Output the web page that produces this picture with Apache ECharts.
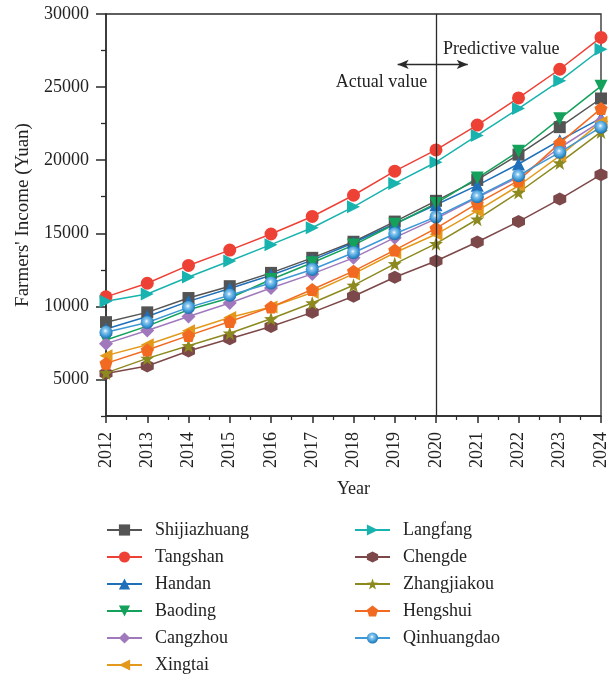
<!DOCTYPE html>
<html>
<head>
<meta charset="utf-8">
<script src="https://cdn.jsdelivr.net/npm/echarts@6/dist/echarts.min.js"></script>
<style>
  html, body { margin: 0; padding: 0; background: #fff; }
  #chart { width: 610px; height: 678px; }
</style>
</head>
<body>
<div id="chart"></div>
<script>
// Farmers' per-capita income of Hebei cities, 2012-2020 actual, 2021-2024 predicted
const years = [2012, 2013, 2014, 2015, 2016, 2017, 2018, 2019, 2020, 2021, 2022, 2023, 2024];

const shijiazhuang = [8920, 9590, 10570, 11380, 12290, 13320, 14420, 15800, 17220, 18650, 20380, 22260, 24220];
const tangshan     = [10650, 11580, 12800, 13850, 14950, 16150, 17600, 19250, 20700, 22400, 24260, 26220, 28400];
const handan       = [8450, 9310, 10340, 11220, 12130, 13160, 14350, 15650, 16950, 18280, 19740, 21350, 22880];
const baoding      = [7700, 8650, 9770, 10570, 11840, 12980, 14190, 15620, 17040, 18780, 20610, 22840, 25060];
const cangzhou     = [7450, 8350, 9310, 10230, 11260, 12220, 13320, 14700, 16000, 17450, 18850, 20850, 22650];
const xingtai      = [6630, 7370, 8330, 9240, 9950, 10950, 12220, 13670, 14930, 16530, 18250, 20300, 22600];
const langfang     = [10350, 10850, 12010, 13100, 14220, 15380, 16810, 18410, 19860, 21690, 23530, 25430, 27590];
const chengde      = [5400, 5920, 6950, 7780, 8620, 9590, 10690, 11990, 13100, 14400, 15800, 17340, 19010];
const zhangjiakou  = [5450, 6440, 7300, 8160, 9150, 10230, 11440, 12910, 14290, 15960, 17790, 19810, 21930];
const hengshui     = [6100, 7020, 8000, 8970, 9950, 11150, 12410, 13850, 15340, 17040, 18600, 21170, 23530];
const qinhuangdao  = [8230, 8900, 9930, 10760, 11600, 12520, 13670, 14970, 16120, 17500, 18940, 20540, 22260];

const yMajorTicks = [5000, 10000, 15000, 20000, 25000, 30000];
const yMinorTicks = [2500, 7500, 12500, 17500, 22500, 27500];
const splitYear = 2020;

const FONT = '"Liberation Serif", "DejaVu Serif", serif';

const STAR = 'path://M0,-10 L2.35,-3.24 9.51,-3.09 3.8,1.24 5.88,8.09 0,4 -5.88,8.09 -3.8,1.24 -9.51,-3.09 -2.35,-3.24Z';
const HEXAGON = 'path://M0,-10 L8.66,-5 8.66,5 0,10 -8.66,5 -8.66,-5Z';
const PENTAGON = 'path://M0,-10 L9.51,-3.09 5.88,8.09 -5.88,8.09 -9.51,-3.09Z';

const sphere = {
  type: 'radial', x: 0.45, y: 0.4, r: 0.6,
  colorStops: [
    { offset: 0, color: '#ffffff' },
    { offset: 0.25, color: '#8cc8ef' },
    { offset: 0.7, color: '#3a97d6' },
    { offset: 1, color: '#1f6ea8' }
  ]
};

const seriesDefs = [
  { name: 'Shijiazhuang', data: shijiazhuang, color: '#545454', symbol: 'rect', rotate: 0, size: 12 },
  { name: 'Tangshan',     data: tangshan,     color: '#ee4136', symbol: 'circle', rotate: 0, size: 13 },
  { name: 'Handan',       data: handan,       color: '#1f6fba', symbol: 'triangle', rotate: 0, size: 13 },
  { name: 'Baoding',      data: baoding,      color: '#14a15c', symbol: 'triangle', rotate: 180, size: 13 },
  { name: 'Cangzhou',     data: cangzhou,     color: '#a079bd', symbol: 'diamond', rotate: 0, size: 14 },
  { name: 'Xingtai',      data: xingtai,      color: '#e39a1c', symbol: 'triangle', rotate: 90, size: 13 },
  { name: 'Langfang',     data: langfang,     color: '#18b3ae', symbol: 'triangle', rotate: -90, size: 13 },
  { name: 'Chengde',      data: chengde,      color: '#7d4849', symbol: HEXAGON, rotate: 0, size: 13 },
  { name: 'Zhangjiakou',  data: zhangjiakou,  color: '#8c8a1f', symbol: STAR, rotate: 0, size: 14 },
  { name: 'Hengshui',     data: hengshui,     color: '#f26a21', symbol: PENTAGON, rotate: 0, size: 13 },
  { name: 'Qinhuangdao',  data: qinhuangdao,  color: '#3d99d6', symbol: 'circle', rotate: 0, size: 13, fill: sphere }
];

const series = seriesDefs.map(function (d) {
  return {
    name: d.name,
    type: 'line',
    data: years.map(function (y, i) { return [y, d.data[i]]; }),
    symbol: d.symbol,
    symbolSize: d.size,
    symbolRotate: d.rotate,
    showSymbol: true,
    lineStyle: { color: d.color, width: 1.5 },
    itemStyle: { color: d.fill || d.color, borderWidth: 0 },
    emphasis: { disabled: true },
    animation: false,
    z: 3
  };
});

// Divider between actual and predicted years, plus the two-way arrow
series[0].markLine = {
  silent: true,
  animation: false,
  label: { show: false },
  data: [
    [
      { coord: [splitYear, 2500], symbol: 'none' },
      { coord: [splitYear, 30000], symbol: 'none' }
    ],
    [
      { coord: [2019.07, 26550], symbol: 'arrow', symbolSize: [7, 11] },
      { coord: [2020.77, 26550], symbol: 'arrow', symbolSize: [7, 11] }
    ]
  ],
  lineStyle: { color: '#2a2a2a', width: 1.3, type: 'solid' }
};

const legendCommon = {
  orient: 'vertical',
  padding: 0,
  itemWidth: 35,
  itemHeight: 14,
  itemGap: 9,
  textStyle: { fontFamily: FONT, fontSize: 18, color: '#222', padding: [0, 0, 0, 8] },
  selectedMode: false
};

const option = {
  backgroundColor: '#ffffff',
  animation: false,
  textStyle: { fontFamily: FONT },
  grid: {
    left: 106, right: 8, top: 14, bottom: 262,
    show: true, borderColor: '#2a2a2a', borderWidth: 1.3, backgroundColor: 'transparent'
  },
  xAxis: {
    type: 'value',
    min: 2012, max: 2024, interval: 1,
    name: 'Year',
    nameLocation: 'middle',
    nameGap: 64,
    nameTextStyle: { fontFamily: FONT, fontSize: 18, color: '#222' },
    axisLine: { show: true, lineStyle: { color: '#2a2a2a', width: 1.5 } },
    axisTick: { show: true, length: 7, lineStyle: { color: '#2a2a2a', width: 1.5 } },
    minorTick: { show: true, splitNumber: 2, length: 4, lineStyle: { color: '#2a2a2a', width: 1.2 } },
    axisLabel: { rotate: 90, margin: 16, fontFamily: FONT, fontSize: 18, color: '#222', formatter: function (v) { return String(v); } },
    splitLine: { show: false }
  },
  yAxis: [
    {
      type: 'value',
      min: 2500, max: 30000,
      name: "Farmers' Income (Yuan)",
      nameLocation: 'middle',
      nameGap: 73,
      nameTextStyle: { fontFamily: FONT, fontSize: 19, color: '#222' },
      axisLine: { show: true, lineStyle: { color: '#2a2a2a', width: 1.5 } },
      axisTick: { show: true, length: 10, customValues: yMajorTicks, lineStyle: { color: '#2a2a2a', width: 1.5 } },
      axisLabel: {
        margin: 17, customValues: yMajorTicks, fontFamily: FONT, fontSize: 18, color: '#222',
        formatter: function (v) { return String(v); }
      },
      splitLine: { show: false }
    },
    {
      type: 'value',
      min: 2500, max: 30000,
      position: 'left',
      axisLine: { show: false },
      axisTick: { show: true, length: 5, customValues: yMinorTicks, lineStyle: { color: '#2a2a2a', width: 1.3 } },
      axisLabel: { show: false },
      splitLine: { show: false }
    }
  ],
  legend: [
    Object.assign({ left: 106, top: 521, data: seriesDefs.slice(0, 6).map(function (d) { return d.name; }) }, legendCommon),
    Object.assign({ left: 354, top: 521, data: seriesDefs.slice(6).map(function (d) { return d.name; }) }, legendCommon)
  ],
  series: series
};

const chart = echarts.init(document.getElementById('chart'), null, { renderer: 'canvas' });
chart.setOption(option);

// Annotation text anchored to data coordinates
const actualPos = chart.convertToPixel({ gridIndex: 0 }, [2018.68, 25340]);
const predictPos = chart.convertToPixel({ gridIndex: 0 }, [2021.58, 27620]);
chart.setOption({
  graphic: [
    {
      type: 'text', x: actualPos[0], y: actualPos[1],
      style: { text: 'Actual value', font: '18px ' + FONT, fill: '#222', align: 'center', verticalAlign: 'middle' }
    },
    {
      type: 'text', x: predictPos[0], y: predictPos[1],
      style: { text: 'Predictive value', font: '18px ' + FONT, fill: '#222', align: 'center', verticalAlign: 'middle' }
    }
  ]
});
</script>
</body>
</html>
